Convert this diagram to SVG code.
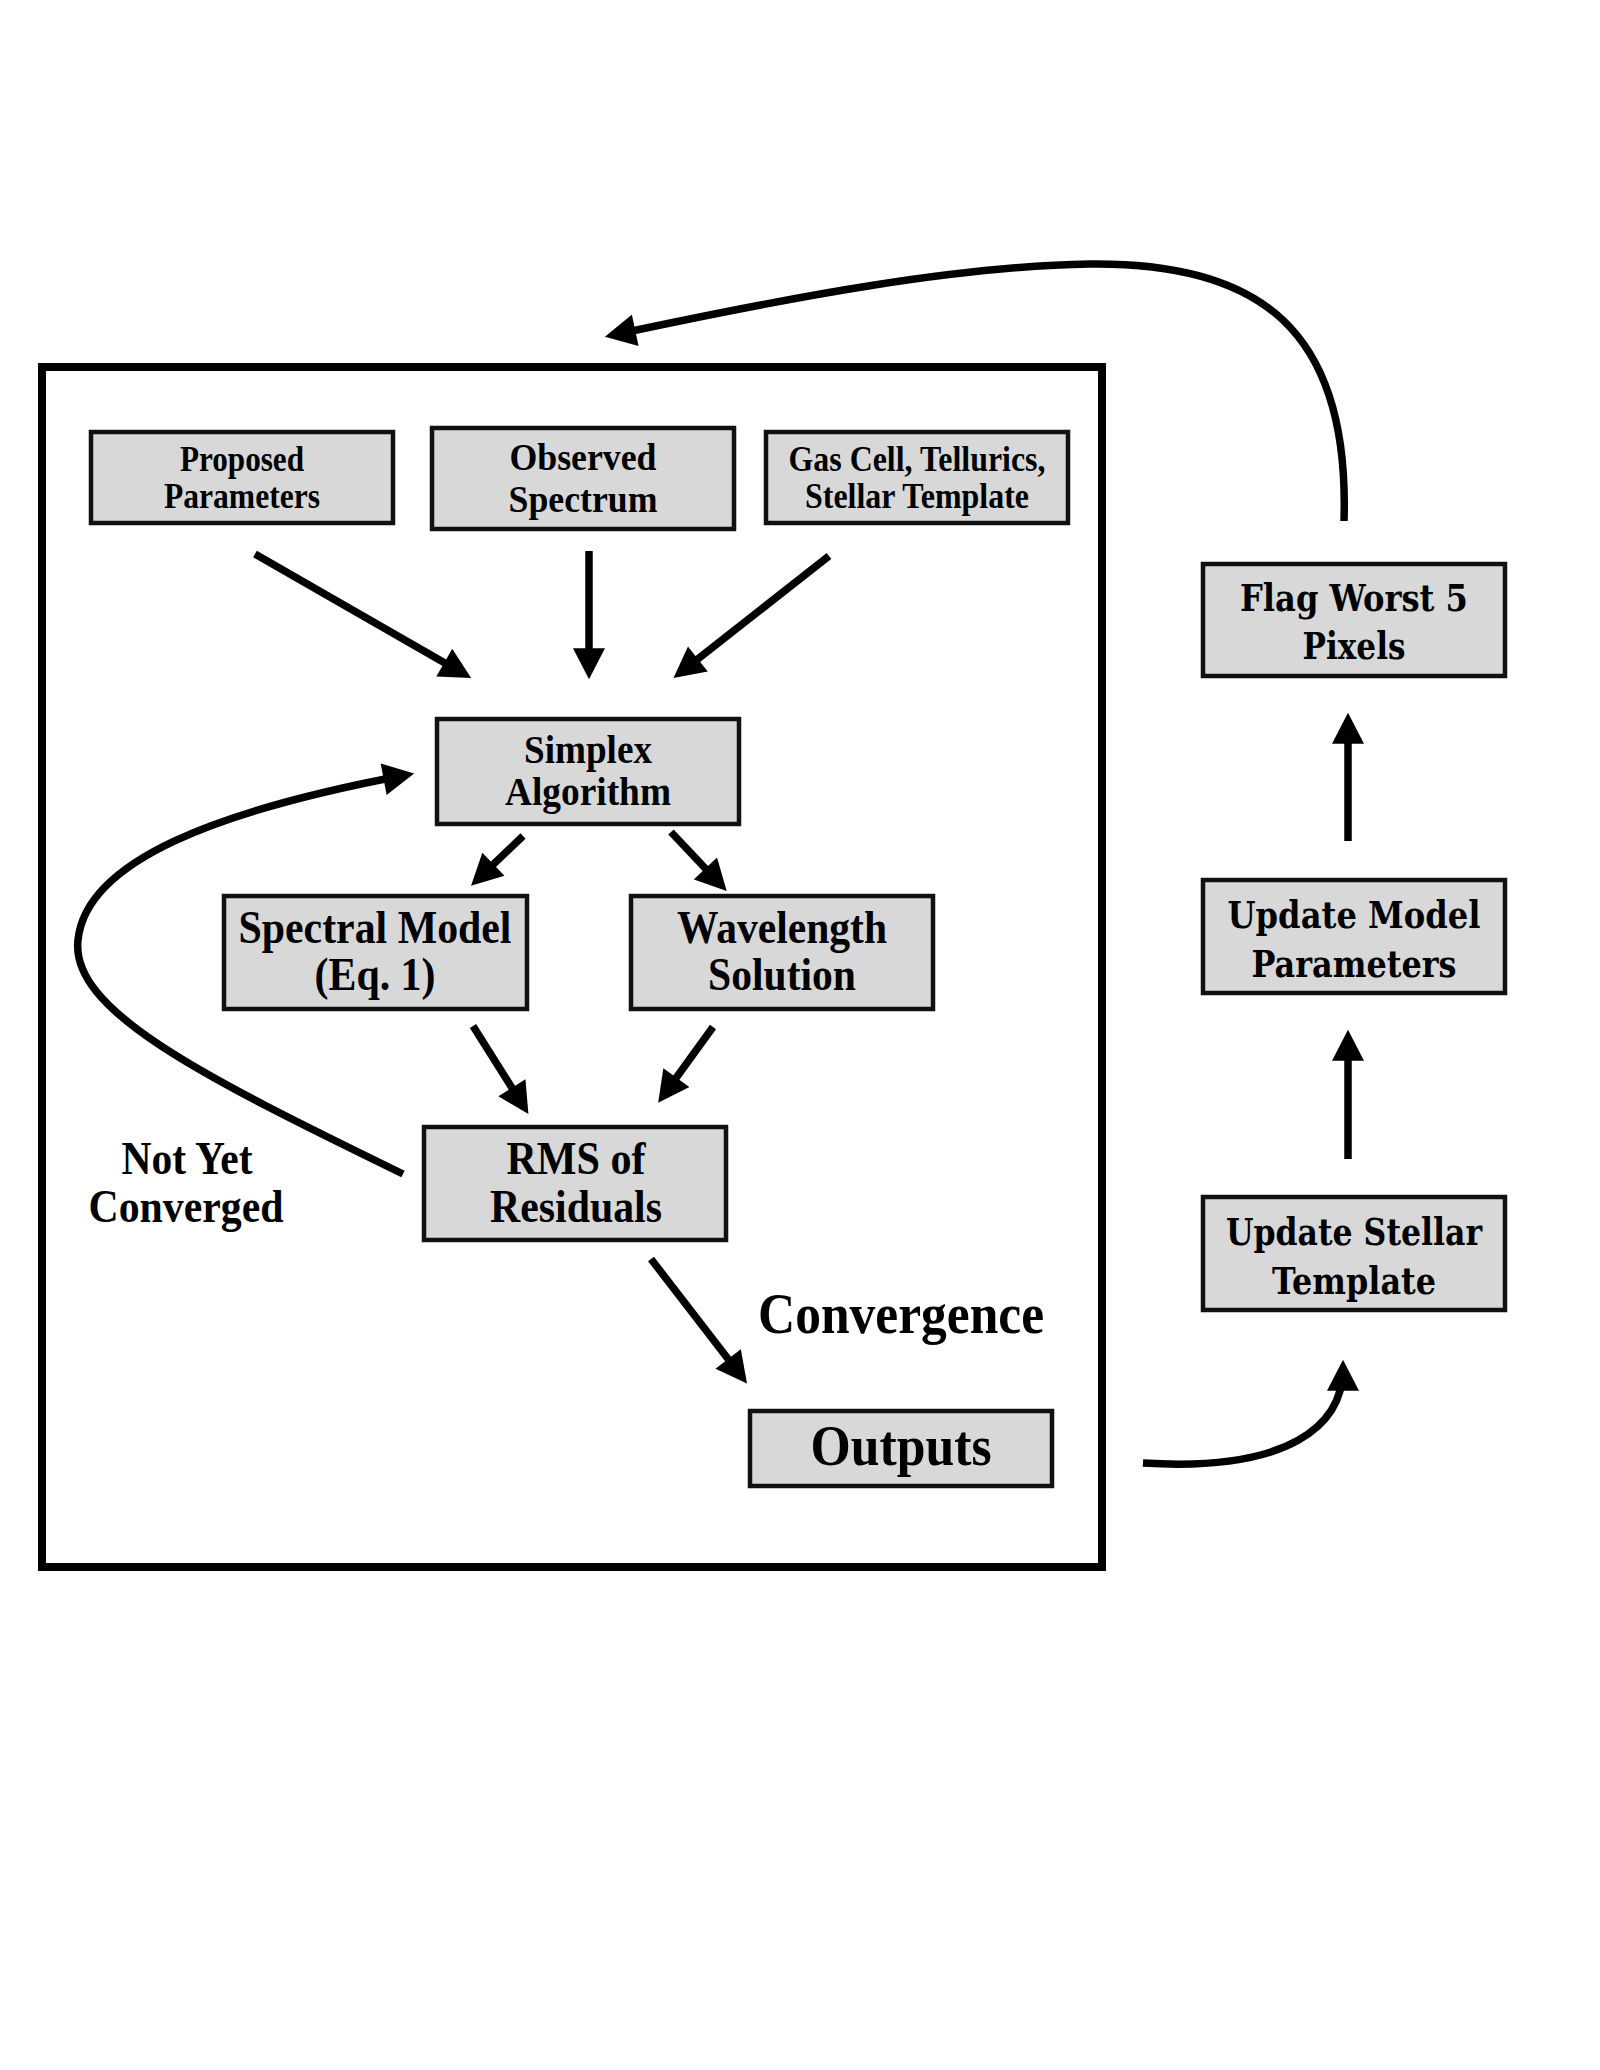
<svg xmlns="http://www.w3.org/2000/svg" width="1600" height="2070" viewBox="0 0 1600 2070">
<style>
.box{fill:#d8d8d8;stroke:#111;stroke-width:4.5}
.t{font-family:"Liberation Serif","Times New Roman",serif;font-weight:bold;fill:#000;text-anchor:middle}
.w{font-family:"DejaVu Serif","Liberation Serif",serif;font-weight:bold;fill:#000;text-anchor:middle}
.c{fill:none;stroke:#000;stroke-width:7.5}
</style>
<defs>
<marker id="ah" markerUnits="userSpaceOnUse" markerWidth="32" markerHeight="32" viewBox="0 0 30 31" refX="22" refY="15.5" orient="auto">
<path d="M0,0 L30,15.5 L0,31 z" fill="#000"/>
</marker>
</defs>
<rect width="1600" height="2070" fill="#fff"/>
<rect id="frame" x="42" y="367" width="1060" height="1200" fill="none" stroke="#000" stroke-width="8"/>

<g id="proposed">
<rect class="box" x="91" y="432" width="302" height="91"/>
<text class="t" x="242" y="471" font-size="36" textLength="124" lengthAdjust="spacingAndGlyphs">Proposed</text>
<text class="t" x="242" y="508" font-size="36" textLength="156" lengthAdjust="spacingAndGlyphs">Parameters</text>
</g>
<g id="observed">
<rect class="box" x="432" y="428" width="302" height="101"/>
<text class="t" x="583" y="470" font-size="38" textLength="147" lengthAdjust="spacingAndGlyphs">Observed</text>
<text class="t" x="583" y="512" font-size="38" textLength="149" lengthAdjust="spacingAndGlyphs">Spectrum</text>
</g>
<g id="gascell">
<rect class="box" x="766" y="432" width="302" height="91"/>
<text class="t" x="917" y="471" font-size="36" textLength="257" lengthAdjust="spacingAndGlyphs">Gas Cell, Tellurics,</text>
<text class="t" x="917" y="508" font-size="36" textLength="224" lengthAdjust="spacingAndGlyphs">Stellar Template</text>
</g>
<g id="simplex">
<rect class="box" x="437" y="719" width="302" height="105"/>
<text class="t" x="588" y="763" font-size="41" textLength="128" lengthAdjust="spacingAndGlyphs">Simplex</text>
<text class="t" x="588" y="805" font-size="41" textLength="166" lengthAdjust="spacingAndGlyphs">Algorithm</text>
</g>
<g id="spectral">
<rect class="box" x="224" y="896" width="303" height="113"/>
<text class="t" x="375" y="943" font-size="47" textLength="273" lengthAdjust="spacingAndGlyphs">Spectral Model</text>
<text class="t" x="375" y="990" font-size="47" textLength="121" lengthAdjust="spacingAndGlyphs">(Eq. 1)</text>
</g>
<g id="wavelength">
<rect class="box" x="631" y="896" width="302" height="113"/>
<text class="t" x="782" y="943" font-size="47" textLength="210" lengthAdjust="spacingAndGlyphs">Wavelength</text>
<text class="t" x="782" y="990" font-size="47" textLength="148" lengthAdjust="spacingAndGlyphs">Solution</text>
</g>
<g id="rms">
<rect class="box" x="424" y="1127" width="302" height="113"/>
<text class="t" x="576" y="1174" font-size="47" textLength="139" lengthAdjust="spacingAndGlyphs">RMS of</text>
<text class="t" x="576" y="1222" font-size="47" textLength="172" lengthAdjust="spacingAndGlyphs">Residuals</text>
</g>
<g id="outputs">
<rect class="box" x="750" y="1411" width="302" height="75"/>
<text class="t" x="901" y="1465" font-size="57" textLength="181" lengthAdjust="spacingAndGlyphs">Outputs</text>
</g>
<g id="flag">
<rect class="box" x="1203" y="564" width="302" height="112"/>
<text class="w" x="1354" y="611" font-size="38" textLength="228" lengthAdjust="spacingAndGlyphs">Flag Worst 5</text>
<text class="w" x="1354" y="659" font-size="38" textLength="103" lengthAdjust="spacingAndGlyphs">Pixels</text>
</g>
<g id="updmodel">
<rect class="box" x="1203" y="880" width="302" height="113"/>
<text class="w" x="1354" y="928" font-size="38" textLength="253" lengthAdjust="spacingAndGlyphs">Update Model</text>
<text class="w" x="1354" y="977" font-size="38" textLength="205" lengthAdjust="spacingAndGlyphs">Parameters</text>
</g>
<g id="updstellar">
<rect class="box" x="1203" y="1197" width="302" height="113"/>
<text class="w" x="1354" y="1245" font-size="38" textLength="256" lengthAdjust="spacingAndGlyphs">Update Stellar</text>
<text class="w" x="1354" y="1294" font-size="38" textLength="164" lengthAdjust="spacingAndGlyphs">Template</text>
</g>

<g id="labels">
<text class="t" x="187" y="1174" font-size="47" textLength="131" lengthAdjust="spacingAndGlyphs">Not Yet</text>
<text class="t" x="186" y="1222" font-size="47" textLength="195" lengthAdjust="spacingAndGlyphs">Converged</text>
<text class="t" x="901" y="1333" font-size="57" textLength="286" lengthAdjust="spacingAndGlyphs">Convergence</text>
</g>

<g id="connectors">
<path class="c" d="M255,554 L464,674" marker-end="url(#ah)"/>
<path class="c" d="M589,551 L589,671" marker-end="url(#ah)"/>
<path class="c" d="M829,556 L680,673" marker-end="url(#ah)"/>
<path class="c" d="M523,836 L477,880" marker-end="url(#ah)"/>
<path class="c" d="M671,832 L721,885" marker-end="url(#ah)"/>
<path class="c" d="M473,1026 L524,1107" marker-end="url(#ah)"/>
<path class="c" d="M713,1027 L663,1096" marker-end="url(#ah)"/>
<path class="c" d="M651,1259 L742,1377" marker-end="url(#ah)"/>
<path class="c" d="M1348,1159 L1348,1038" marker-end="url(#ah)"/>
<path class="c" d="M1348,841 L1348,721" marker-end="url(#ah)"/>
<path class="c" d="M1143,1463 C1290,1472 1343,1425 1343,1368" marker-end="url(#ah)"/>
<path class="c" d="M1344,521 C1350,330 1260,262 1090,264 C960,266 800,295 613,335" marker-end="url(#ah)"/>
<path class="c" d="M403,1174 C200,1075 70,1010 78,940 C86,860 220,810 406,775" marker-end="url(#ah)"/>
</g>
</svg>
